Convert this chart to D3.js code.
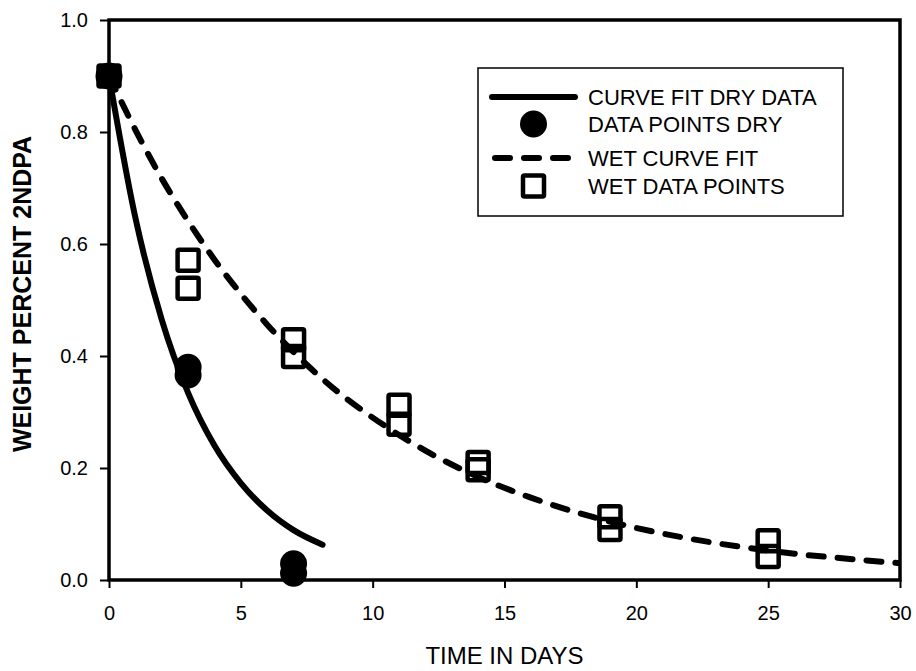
<!DOCTYPE html>
<html>
<head>
<meta charset="utf-8">
<script src="https://cdn.jsdelivr.net/npm/d3@7"></script>
<style>
  html, body { margin: 0; padding: 0; background: #fff; }
  svg { display: block; font-family: "Liberation Sans", Arial, Helvetica, sans-serif; }
</style>
</head>
<body>
<svg id="chart" width="916" height="671"></svg>
<script>
// ---- data ----
const xTicks = [0, 5, 10, 15, 20, 25, 30];
const yTicks = [0.0, 0.2, 0.4, 0.6, 0.8, 1.0];

const dryFitDays   = [0, 1, 2, 3, 4, 5, 6, 7, 8.1];
const dryFitValues = [0.900, 0.647, 0.465, 0.334, 0.240, 0.173, 0.124, 0.089, 0.063];

const wetFitDays   = [0, 1, 2, 3, 4, 5, 6, 7, 8, 9, 10, 12, 14, 16, 18, 20, 22, 24, 26, 28, 30];
const wetFitValues = [0.900, 0.804, 0.717, 0.641, 0.572, 0.511, 0.456, 0.407, 0.363, 0.324, 0.290,
                      0.231, 0.184, 0.147, 0.117, 0.093, 0.074, 0.059, 0.047, 0.038, 0.030];

const dryPointDays   = [0, 3, 3, 7, 7];
const dryPointValues = [0.900, 0.380, 0.366, 0.029, 0.012];

const wetPointDays   = [0, 3, 3, 7, 7, 11, 11, 14, 14, 19, 19, 25, 25];
const wetPointValues = [0.900, 0.571, 0.521, 0.429, 0.399, 0.312, 0.278, 0.210, 0.197, 0.113, 0.090, 0.070, 0.042];

const legendLabels = ["CURVE FIT DRY DATA", "DATA POINTS DRY", "WET CURVE FIT", "WET DATA POINTS"];
const xTitle = "TIME IN DAYS";
const yTitle = "WEIGHT PERCENT 2NDPA";

// ---- layout ----
const svg = d3.select("#chart");
const L = 109, R = 900, T = 20, B = 580;
const x = d3.scaleLinear().domain([0, 30]).range([L, R]);
const y = d3.scaleLinear().domain([0, 1]).range([B, T]);

// axes
const xAxis = svg.append("g").attr("transform", `translate(0,${B})`)
  .call(d3.axisBottom(x).tickValues(xTicks).tickFormat(d3.format("d")).tickSize(8).tickPadding(18));
const yAxis = svg.append("g").attr("transform", `translate(${L},0)`)
  .call(d3.axisLeft(y).tickValues(yTicks).tickFormat(d3.format(".1f")).tickSize(9).tickPadding(12));
[xAxis, yAxis].forEach(a => {
  a.select(".domain").remove();
  a.selectAll("line").attr("stroke", "#000").attr("stroke-width", 2);
  a.selectAll("text").attr("fill", "#000").style("font-size", "20px")
    .style("font-family", "'Liberation Sans', Arial, sans-serif");
});

// clip for curves
svg.append("clipPath").attr("id", "clip").append("rect")
  .attr("x", L).attr("y", T).attr("width", R - L).attr("height", B - T);

const line = d3.line().x(d => x(d[0])).y(d => y(d[1])).curve(d3.curveMonotoneX);

// wet dashed curve
svg.append("path")
  .datum(wetFitDays.map((d, i) => [d, wetFitValues[i]]))
  .attr("d", line).attr("fill", "none").attr("stroke", "#000")
  .attr("stroke-width", 6).attr("stroke-dasharray", "15,14").attr("stroke-linecap", "round")
  .attr("clip-path", "url(#clip)");

// dry solid curve
svg.append("path")
  .datum(dryFitDays.map((d, i) => [d, dryFitValues[i]]))
  .attr("d", line).attr("fill", "none").attr("stroke", "#000")
  .attr("stroke-width", 6).attr("stroke-linecap", "round");

// dry points (filled circles)
svg.append("g").selectAll("circle")
  .data(dryPointDays.map((d, i) => [d, dryPointValues[i]]))
  .join("circle")
  .attr("cx", d => x(d[0])).attr("cy", d => y(d[1])).attr("r", 13.5).attr("fill", "#000");

// wet points (open squares)
const sq = 21;
svg.append("g").selectAll("rect")
  .data(wetPointDays.map((d, i) => [d, wetPointValues[i]]))
  .join("rect")
  .attr("x", d => x(d[0]) - sq / 2).attr("y", d => y(d[1]) - sq / 2)
  .attr("width", sq).attr("height", sq).attr("rx", 1.5)
  .attr("fill", "none").attr("stroke", "#000").attr("stroke-width", 4.5);

// frame
svg.append("rect").attr("x", L).attr("y", T).attr("width", R - L).attr("height", B - T)
  .attr("fill", "none").attr("stroke", "#000").attr("stroke-width", 3.5);

// legend
const lg = svg.append("g");
lg.append("rect").attr("x", 478).attr("y", 68).attr("width", 365).attr("height", 148)
  .attr("fill", "#fff").attr("stroke", "#000").attr("stroke-width", 1.5);
const rowY = [97, 124, 158, 186];
const sx0 = 492, sx1 = 575, smid = (sx0 + sx1) / 2;
lg.append("line").attr("x1", sx0).attr("x2", sx1).attr("y1", rowY[0]).attr("y2", rowY[0])
  .attr("stroke", "#000").attr("stroke-width", 6).attr("stroke-linecap", "round");
lg.append("circle").attr("cx", smid).attr("cy", rowY[1]).attr("r", 13.5).attr("fill", "#000");
lg.append("line").attr("x1", sx0 + 3).attr("x2", sx1 - 3).attr("y1", rowY[2]).attr("y2", rowY[2])
  .attr("stroke", "#000").attr("stroke-width", 6).attr("stroke-linecap", "round")
  .attr("stroke-dasharray", "15,14");
lg.append("rect").attr("x", smid - sq / 2).attr("y", rowY[3] - sq / 2).attr("width", sq).attr("height", sq)
  .attr("rx", 1.5).attr("fill", "none").attr("stroke", "#000").attr("stroke-width", 4.5);
lg.selectAll("text.lab").data(legendLabels).join("text").attr("class", "lab")
  .attr("x", 588).attr("y", (d, i) => rowY[i]).attr("dy", "0.36em")
  .style("font-size", "22px").attr("fill", "#000").text(d => d);

// axis titles
svg.append("text").attr("x", (L + R) / 2).attr("y", 664).attr("text-anchor", "middle")
  .style("font-size", "24px").attr("fill", "#000").text(xTitle);
svg.append("text").attr("transform", "translate(31,294) rotate(-90)").attr("text-anchor", "middle")
  .style("font-size", "25px").style("font-weight", "bold").attr("fill", "#000").text(yTitle);
</script>
</body>
</html>
